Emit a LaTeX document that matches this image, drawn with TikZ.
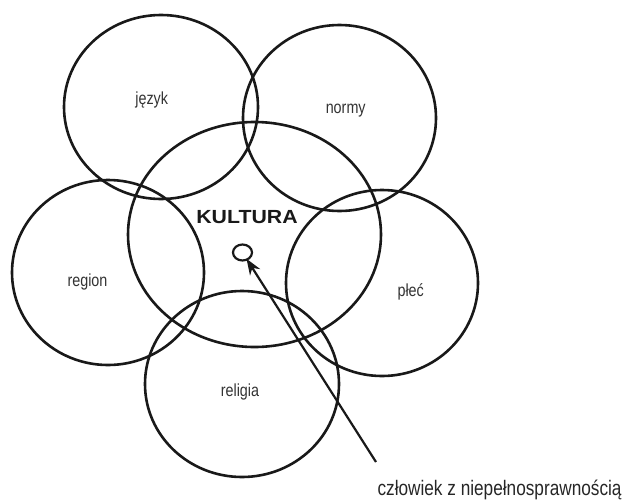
\documentclass[tikz,border=0pt]{standalone}
\usepackage{fontspec}
\setmainfont{Liberation Sans}
\newfontfamily\waski[FakeStretch=0.82]{Liberation Sans}
\newfontfamily\szeroki[FakeStretch=1.12]{Liberation Sans}
\usetikzlibrary{arrows.meta,shapes.geometric}

\begin{document}
\begin{tikzpicture}[x=1pt,y=-1pt,
		krag/.style={line width=2.6pt,black!90},
		etykieta/.style={anchor=base,text=black!80,font=\waski\fontsize{17.5}{20}\selectfont}]
			\useasboundingbox (0,0) rectangle (624,501);
			\foreach \x/\y/\rx/\ry in {161/107/97/92,339.5/118/96.5/93,108/272.5/96/92.5,382/283/96/93,242/384/97/93,254.5/234.5/126.5/112.5}
				\draw[krag] (\x,\y) ellipse [x radius=\rx pt,y radius=\ry pt];
			\foreach \n/\x/\y/\t in {jezyk/151.7/104/język,normy/345.7/113/normy,region/87.5/286.7/region,plec/410.7/296.7/płeć,religia/240/396.7/religia}
				\node[etykieta] (\n) at (\x,\y) {\t};
			\node[anchor=base,text=black!90,font=\szeroki\bfseries\fontsize{19}{22}\selectfont] (kultura) at (247,223) {KULTURA};
			\node[draw,ellipse,line width=2.2pt,black!90,minimum width=19pt,minimum height=16pt,inner sep=0pt] (osoba) at (242.5,252.5) {};
			\node[anchor=base west,text=black!85,font=\waski\fontsize{21}{24}\selectfont] (czlowiek) at (374,495) {człowiek z niepełnosprawnością};
			\coordinate (start) at (376,462);
			\draw[line width=2.2pt,black!90,shorten >=-2pt,-{Stealth[length=16pt,width=12pt]}] (start) -- (osoba);
		\end{tikzpicture}
\end{document}
